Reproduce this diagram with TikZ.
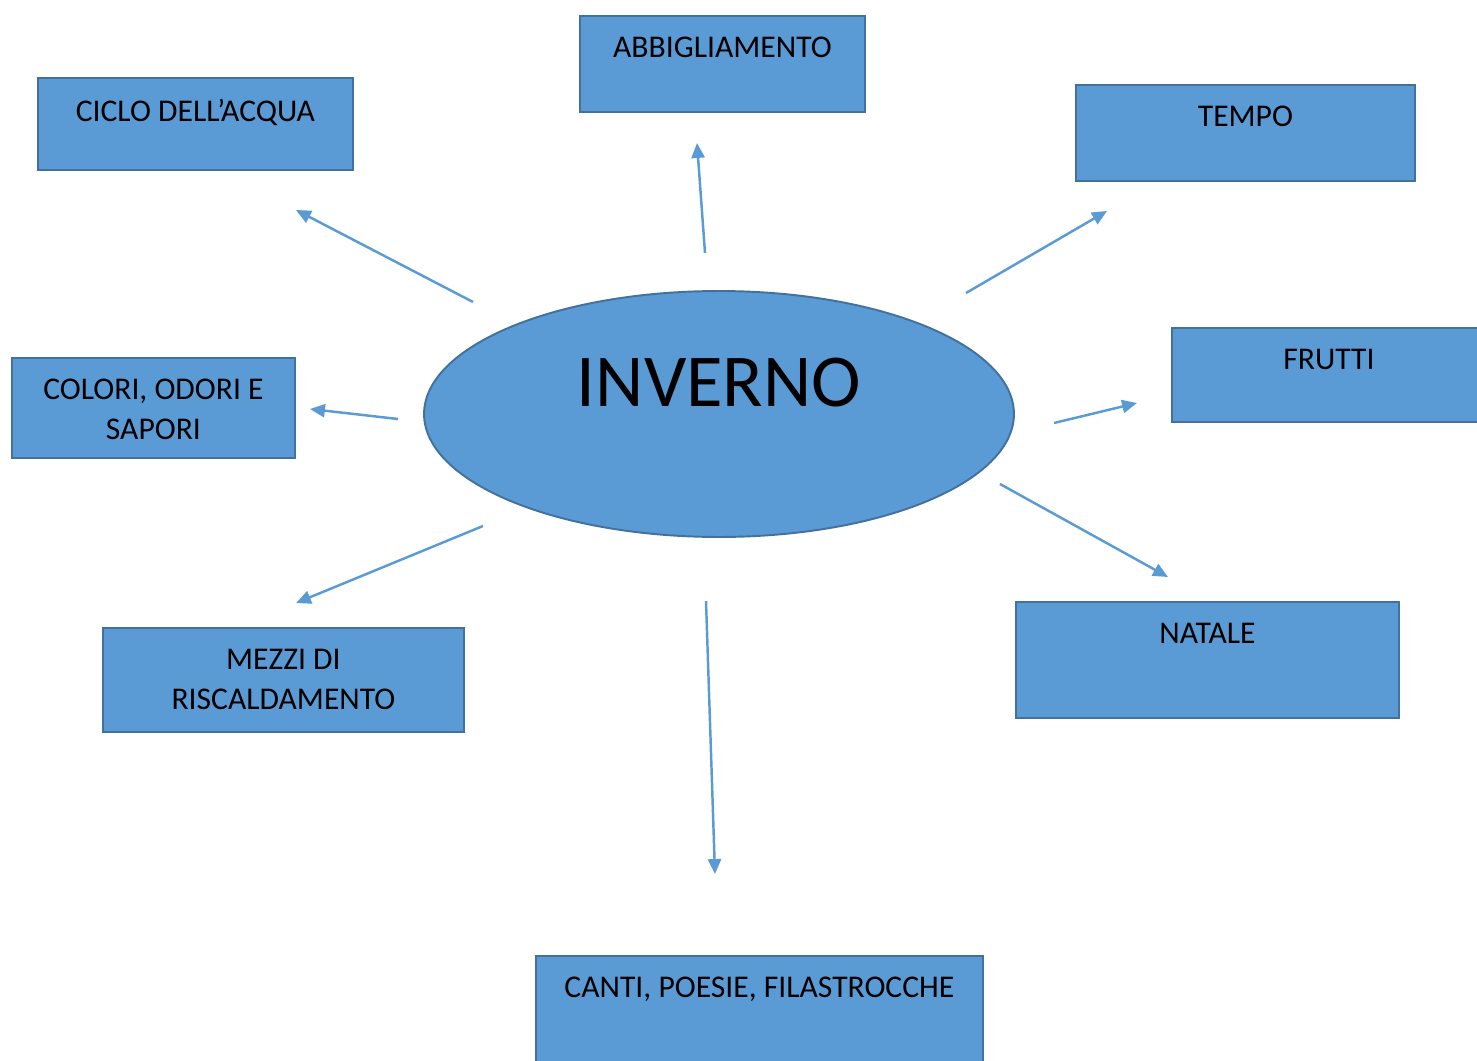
\documentclass[tikz,border=0pt]{standalone}
\usepackage{fontspec}
\setmainfont{Carlito}
\usetikzlibrary{arrows.meta,shapes.geometric}

\definecolor{riempi}{HTML}{5B9BD5}
\definecolor{bordo}{HTML}{41719C}

\tikzset{
  box/.style={draw=bordo, fill=riempi, line width=1.1pt, rectangle, inner sep=0pt, anchor=north west},
  testo/.style={font=\fontsize{18pt}{22.7pt}\selectfont, align=center, inner sep=0pt, anchor=north},
  freccia/.style={draw=riempi, line width=1.4pt, -{Triangle[length=8.5pt, width=7.5pt]}}
}

\begin{document}
\begin{tikzpicture}[x=0.02cm, y=-0.02cm]

  % Area del disegno
  \useasboundingbox (0,0) rectangle (1477,1061);
  \clip (0,0) rectangle (1477,1061);

  % Ellisse centrale
  \node[draw=bordo, fill=riempi, line width=1.1pt, ellipse, inner sep=0pt,
        minimum width=11.8cm, minimum height=4.92cm] (inverno) at (719,414) {};
  \node[font=\fontsize{42.5pt}{50pt}\selectfont, anchor=base, inner sep=0pt] (invernoT) at (719,406) {INVERNO};

  % Riquadri
  \node[box, minimum width=6.30cm, minimum height=1.84cm] (ciclo) at (37,77) {};
  \node[box, minimum width=5.70cm, minimum height=1.92cm] (abbi) at (579,15) {};
  \node[box, minimum width=6.78cm, minimum height=1.92cm] (tempo) at (1075,84) {};
  \node[box, minimum width=6.28cm, minimum height=1.88cm] (frutti) at (1171,327) {};
  \node[box, minimum width=5.66cm, minimum height=2.00cm] (colori) at (11,357) {};
  \node[box, minimum width=7.22cm, minimum height=2.08cm] (mezzi) at (102,627) {};
  \node[box, minimum width=7.66cm, minimum height=2.32cm] (natale) at (1015,601) {};
  \node[box, minimum width=8.94cm, minimum height=2.40cm] (canti) at (535,955) {};

  % Testi dei riquadri
  \node[testo] (cicloT) at ([yshift=-12.5pt]ciclo.north) {CICLO DELL’ACQUA};
  \node[testo] (abbiT) at ([yshift=-12.5pt]abbi.north) {ABBIGLIAMENTO};
  \node[testo] (tempoT) at ([yshift=-12.5pt]tempo.north) {TEMPO};
  \node[testo] (fruttiT) at ([yshift=-12.5pt]frutti.north) {FRUTTI};
  \node[testo] (coloriT) at ([yshift=-12.5pt]colori.north) {COLORI, ODORI E\\SAPORI};
  \node[testo] (mezziT) at ([yshift=-12.5pt]mezzi.north) {MEZZI DI\\RISCALDAMENTO};
  \node[testo] (nataleT) at ([yshift=-12.5pt]natale.north) {NATALE};
  \node[testo] (cantiT) at ([yshift=-12.5pt]canti.north) {CANTI, POESIE, FILASTROCCHE};

  % Estremi delle frecce
  \coordinate (c1) at (473,302); \coordinate (c2) at (296,210);
  \coordinate (a1) at (705,253); \coordinate (a2) at (697,143);
  \coordinate (t1) at (966,293); \coordinate (t2) at (1107,211);
  \coordinate (f1) at (1054,423); \coordinate (f2) at (1137,403);
  \coordinate (o1) at (398,419); \coordinate (o2) at (310,409);
  \coordinate (m1) at (483,526); \coordinate (m2) at (296,603);
  \coordinate (n1) at (1000,484); \coordinate (n2) at (1168,577);
  \coordinate (p1) at (706,601); \coordinate (p2) at (715,874);

  % Frecce
  \draw[freccia] (c1) -- (c2);
  \draw[freccia] (a1) -- (a2);
  \draw[freccia] (t1) -- (t2);
  \draw[freccia] (f1) -- (f2);
  \draw[freccia] (o1) -- (o2);
  \draw[freccia] (m1) -- (m2);
  \draw[freccia] (n1) -- (n2);
  \draw[freccia] (p1) -- (p2);

\end{tikzpicture}
\end{document}
